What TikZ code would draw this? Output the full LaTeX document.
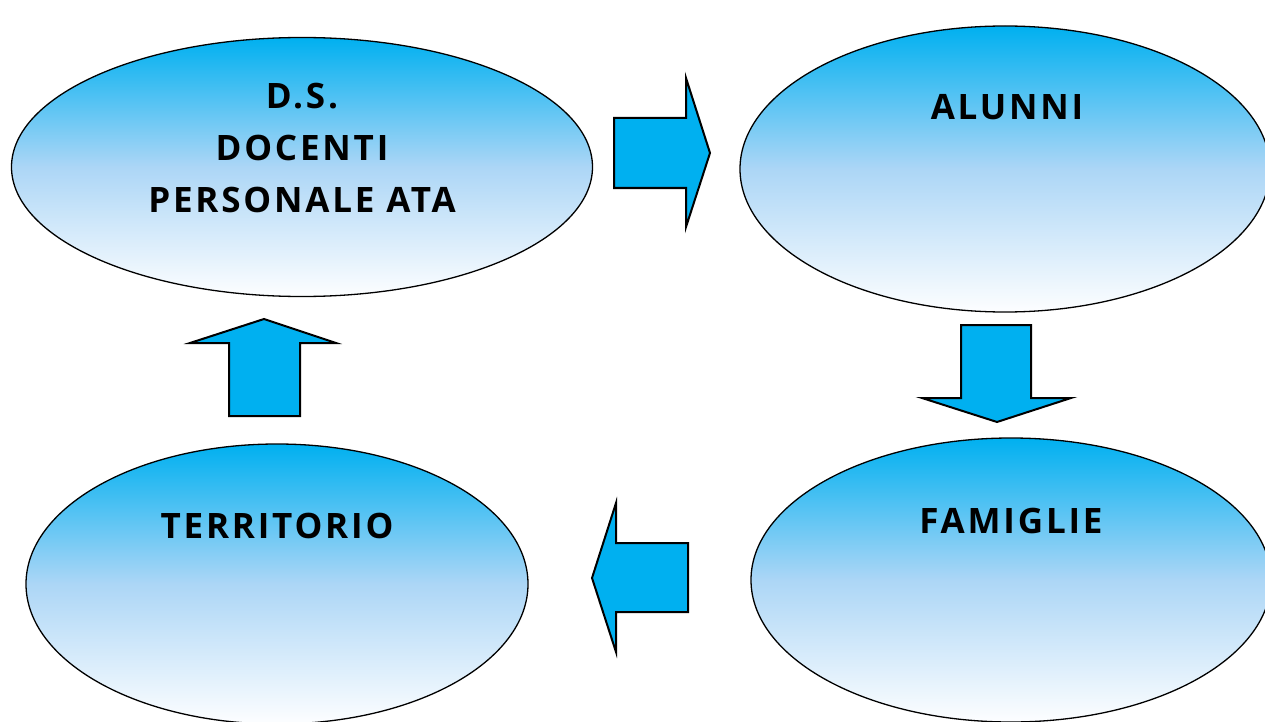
\documentclass[tikz,border=0pt]{standalone}
\usepackage{fontspec}
\setmainfont{Open Sans}
\usetikzlibrary{shapes.geometric}
\definecolor{skyfill}{RGB}{0,176,240}
\definecolor{skymid}{RGB}{172,214,246}
\definecolor{skylow}{RGB}{253,254,255}
\tikzset{
  bubble/.style={ellipse, draw=black, line width=1.3pt, inner sep=0pt,
    top color=skyfill, bottom color=skylow, middle color=skymid},
  caption/.style={font=\fontsize{35}{52}\selectfont\bfseries\addfontfeatures{LetterSpace=8},
    align=center, text=black},
  blockarrow/.style={fill=skyfill, draw=black, line width=2pt, line join=miter}
}
\begin{document}
\begin{tikzpicture}[x=1pt,y=-1pt]
\useasboundingbox (0,0) rectangle (1265,722);
\begin{scope}
\clip (0,0) rectangle (1265,722);
% the four groups
\node[bubble, minimum width=581pt, minimum height=259pt] (staff) at (302,167) {};
\node[bubble, minimum width=530pt, minimum height=286pt] (pupils) at (1005,169) {};
\node[bubble, minimum width=520pt, minimum height=284pt] (families) at (1011,580) {};
\node[bubble, minimum width=502pt, minimum height=280pt] (area) at (277,584) {};
\end{scope}
% labels
\node[caption, anchor=base] (staffT) at (302,212) {D.S.\\DOCENTI\\PERSONALE ATA};
\node[caption, anchor=base] (pupilsT) at (1007,120) {ALUNNI};
\node[caption, anchor=base] (familiesT) at (1011,533) {FAMIGLIE};
\node[caption, anchor=base] (areaT) at (277,538) {TERRITORIO};
% block arrows of the cycle
\draw[blockarrow] (614,118) -- (686,118) -- (686,78) -- (710,153) -- (686,227) -- (686,188) -- (614,188) -- cycle;
\draw[blockarrow] (961,325) -- (1031,325) -- (1031,398) -- (1071,398) -- (997,422) -- (922,398) -- (961,398) -- cycle;
\draw[blockarrow] (688,543) -- (616,543) -- (616,503) -- (592,578) -- (616,652) -- (616,612) -- (688,612) -- cycle;
\draw[blockarrow] (229,416) -- (229,343) -- (190,343) -- (264,319) -- (336,343) -- (300,343) -- (300,416) -- cycle;
\end{tikzpicture}
\end{document}
